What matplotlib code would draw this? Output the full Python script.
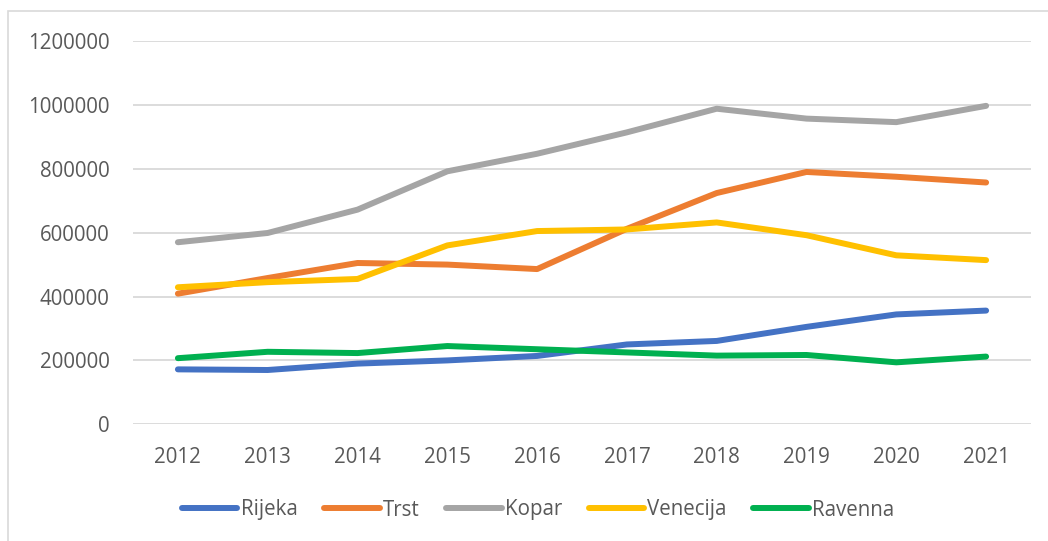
import matplotlib
matplotlib.use("Agg")
import matplotlib.pyplot as plt
from matplotlib.patches import Rectangle

# 数据
years = ["2012", "2013", "2014", "2015", "2016", "2017", "2018", "2019", "2020", "2021"]
rijeka   = [172000, 170000, 190000, 200000, 214000, 250000, 261000, 305000, 344000, 356000]
trst     = [409000, 458000, 505000, 500000, 486000, 612000, 724000, 790000, 775000, 757000]
kopar    = [570000, 599000, 672000, 792000, 847000, 914000, 988000, 957000, 946000, 997000]
venecija = [429000, 445000, 455000, 560000, 605000, 610000, 632000, 592000, 529000, 514000]
ravenna  = [207000, 227000, 223000, 245000, 235000, 225000, 215000, 217000, 194000, 212000]

series = [("Rijeka", rijeka), ("Trst", trst), ("Kopar", kopar),
          ("Venecija", venecija), ("Ravenna", ravenna)]
colors = ["#4472C4", "#ED7D31", "#A5A5A5", "#FFC000", "#00B050"]

_TXT = "#595959"
_GRID = "#D9D9D9"

plt.rcParams["font.family"] = ["Open Sans", "DejaVu Sans"]

W, H = 1048, 541
fig = plt.figure(figsize=(W / 100, H / 100), dpi=100)

# 图表外框
fig.patches.append(Rectangle((8 / W, -0.1), 1.2, (H - 11) / H + 0.1,
                             transform=fig.transFigure, fill=False,
                             edgecolor="#D9D9D9", linewidth=1.2))

ax = fig.add_axes([133 / W, (H - 424.3) / H, (1031 - 133) / W, 383.3 / H])

x = range(len(years))
for (name, vals), c in zip(series, colors):
    ax.plot(x, vals, color=c, lw=4.3, solid_capstyle="round",
            solid_joinstyle="round", label=name)

ax.set_xlim(-0.5, len(years) - 0.5)
ax.set_ylim(0, 1200000)
ax.set_yticks(range(0, 1200001, 200000))
ax.set_yticklabels([str(v) for v in range(0, 1200001, 200000)])
ax.set_xticks(list(x))
ax.set_xticklabels(years)

ax.grid(axis="y", color=_GRID, lw=1.3)
ax.set_axisbelow(True)
for s in ax.spines.values():
    s.set_visible(False)
ax.tick_params(length=0, colors=_TXT, labelsize=14.8)
ax.tick_params(axis="y", pad=17)
ax.tick_params(axis="x", pad=16)

fig.legend(loc="center", bbox_to_anchor=(538 / W, (H - 510) / H), ncol=5,
           frameon=False, fontsize=14.8, labelcolor=_TXT,
           handlelength=2.7, handletextpad=0.15, columnspacing=1.3)

fig.savefig("out.png", dpi=100)
